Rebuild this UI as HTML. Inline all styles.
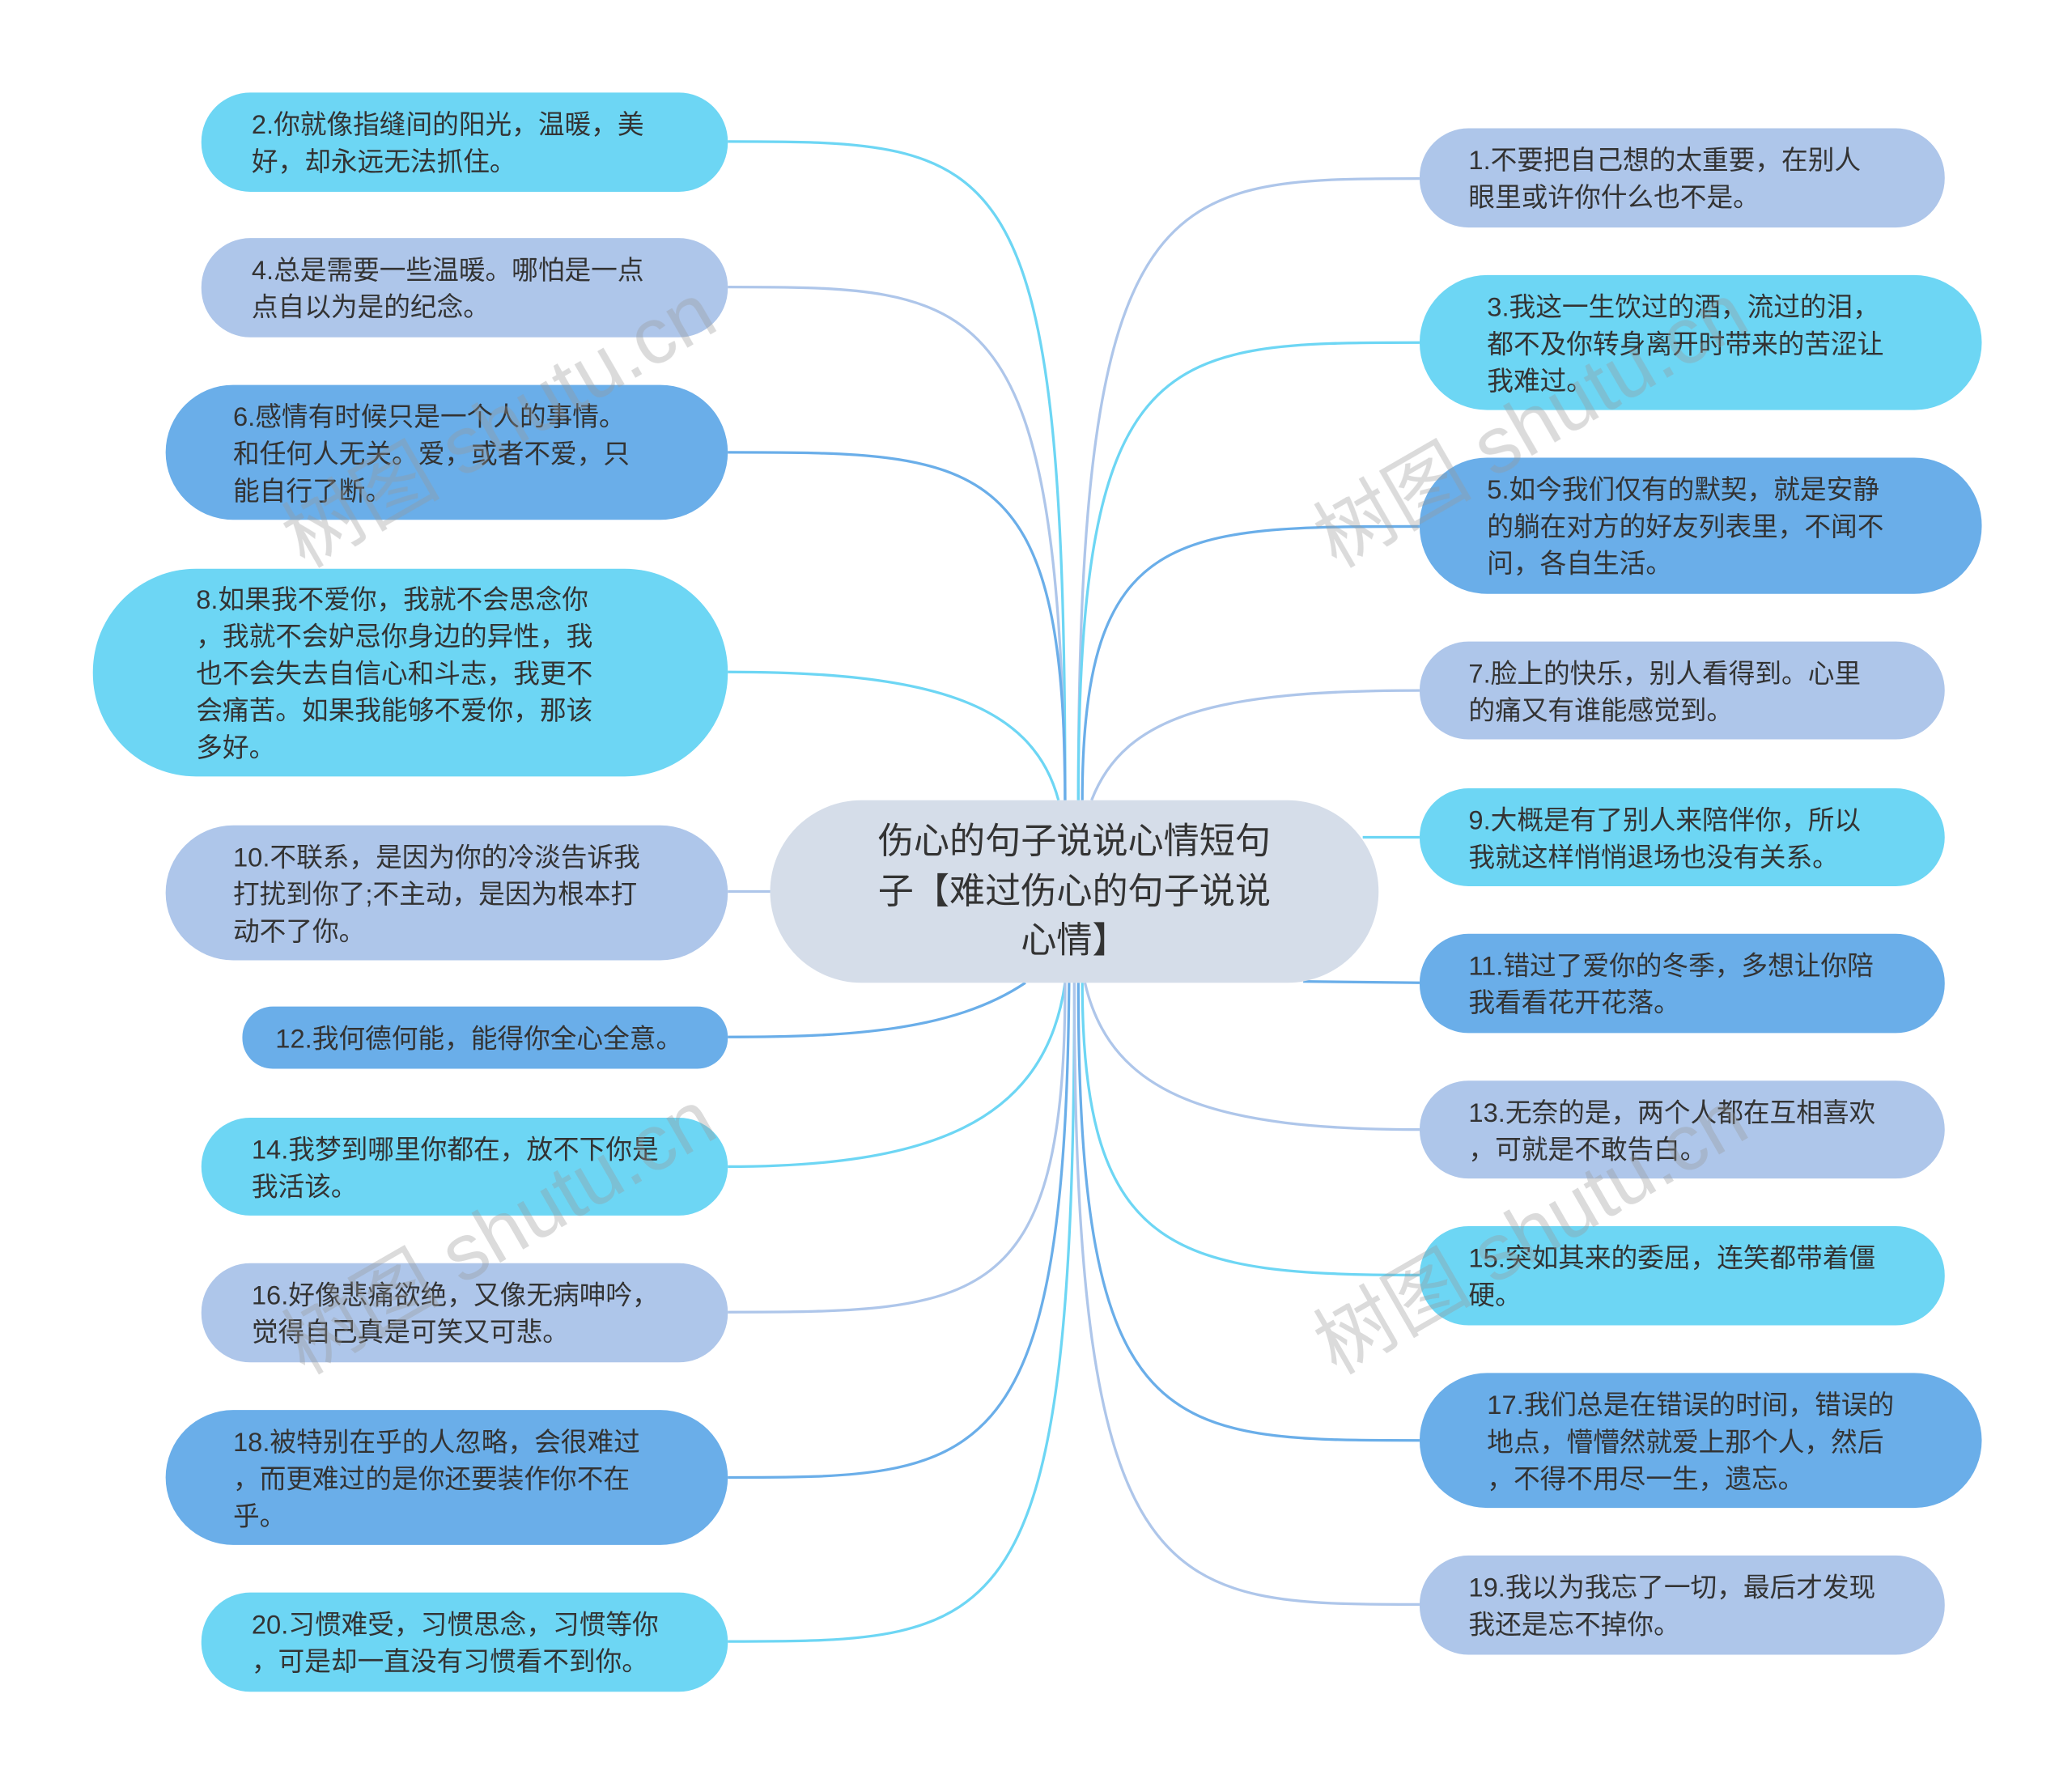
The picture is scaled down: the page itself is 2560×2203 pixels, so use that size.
<!DOCTYPE html>
<html><head><meta charset="utf-8"><style>
html,body{margin:0;padding:0;background:#fff;}
svg{display:block;}
text{font-family:"Liberation Sans","Noto Sans CJK SC",sans-serif;font-size:20px;fill:#333;}
</style></head><body>
<svg width="2560" height="2203" viewBox="0 0 1566 1348" xmlns="http://www.w3.org/2000/svg">
<g fill="none" stroke-width="2">
<path d="M805,605 C805,107 760,107 550,107" stroke="#6dd6f4"/>
<path d="M805,605 C800,217 740,217 550,217" stroke="#aec6ea"/>
<path d="M805,605 C805,342 740,342 550,342" stroke="#6aaee9"/>
<path d="M800,605 C780,530 700,508 550,508" stroke="#6dd6f4"/>
<path d="M582,674 L550,674" stroke="#aec6ea"/>
<path d="M775,743 C720,780 640,784 550,784" stroke="#6aaee9"/>
<path d="M805,743 C790,850 700,882 550,882" stroke="#6dd6f4"/>
<path d="M805,743 C805,990 740,992 550,992" stroke="#aec6ea"/>
<path d="M808,743 C805,1117 740,1117 550,1117" stroke="#6aaee9"/>
<path d="M812,743 C812,1241 760,1241 550,1241" stroke="#6dd6f4"/>
<path d="M815,605 C815,135 880,135 1073,135" stroke="#aec6ea"/>
<path d="M815,605 C815,259 880,259 1073,259" stroke="#6dd6f4"/>
<path d="M818,605 C818,398 890,398 1073,398" stroke="#6aaee9"/>
<path d="M825,605 C850,540 920,522 1073,522" stroke="#aec6ea"/>
<path d="M1030,633 L1073,633" stroke="#6dd6f4"/>
<path d="M985,742 L1073,743" stroke="#6aaee9"/>
<path d="M820,743 C840,830 920,854 1073,854" stroke="#aec6ea"/>
<path d="M818,743 C818,950 890,964 1073,964" stroke="#6dd6f4"/>
<path d="M815,743 C815,1089 880,1089 1073,1089" stroke="#6aaee9"/>
<path d="M812,743 C812,1213 880,1213 1073,1213" stroke="#aec6ea"/>
</g>
<rect x="582" y="605" width="460" height="138" rx="69" fill="#d5dde9"/>
<text x="812" y="645" text-anchor="middle" style="font-size:27px">伤心的句子说说心情短句</text>
<text x="812" y="683" text-anchor="middle" style="font-size:27px">子【难过伤心的句子说说</text>
<text x="812" y="720" text-anchor="middle" style="font-size:27px">心情】</text>
<rect x="152" y="70" width="398" height="75" rx="37" fill="#6dd6f4"/>
<text x="190" y="101">2.你就像指缝间的阳光，温暖，美</text><text x="190" y="129">好，却永远无法抓住。</text>
<rect x="152" y="180" width="398" height="75" rx="37" fill="#aec6ea"/>
<text x="190" y="211">4.总是需要一些温暖。哪怕是一点</text><text x="190" y="239">点自以为是的纪念。</text>
<rect x="125" y="291" width="425" height="102" rx="51" fill="#6aaee9"/>
<text x="176" y="322">6.感情有时候只是一个人的事情。</text><text x="176" y="350">和任何人无关。爱，或者不爱，只</text><text x="176" y="378">能自行了断。</text>
<rect x="70" y="430" width="480" height="157" rx="78" fill="#6dd6f4"/>
<text x="148" y="460">8.如果我不爱你，我就不会思念你</text><text x="148" y="488">，我就不会妒忌你身边的异性，我</text><text x="148" y="516">也不会失去自信心和斗志，我更不</text><text x="148" y="544">会痛苦。如果我能够不爱你，那该</text><text x="148" y="572">多好。</text>
<rect x="125" y="624" width="425" height="102" rx="51" fill="#aec6ea"/>
<text x="176" y="655">10.不联系，是因为你的冷淡告诉我</text><text x="176" y="683">打扰到你了;不主动，是因为根本打</text><text x="176" y="711">动不了你。</text>
<rect x="183" y="761" width="367" height="47" rx="23" fill="#6aaee9"/>
<text x="208" y="792">12.我何德何能，能得你全心全意。</text>
<rect x="152" y="845" width="398" height="74" rx="37" fill="#6dd6f4"/>
<text x="190" y="876">14.我梦到哪里你都在，放不下你是</text><text x="190" y="904">我活该。</text>
<rect x="152" y="955" width="398" height="75" rx="37" fill="#aec6ea"/>
<text x="190" y="986">16.好像悲痛欲绝，又像无病呻吟，</text><text x="190" y="1014">觉得自己真是可笑又可悲。</text>
<rect x="125" y="1066" width="425" height="102" rx="51" fill="#6aaee9"/>
<text x="176" y="1097">18.被特别在乎的人忽略，会很难过</text><text x="176" y="1125">，而更难过的是你还要装作你不在</text><text x="176" y="1153">乎。</text>
<rect x="152" y="1204" width="398" height="75" rx="37" fill="#6dd6f4"/>
<text x="190" y="1235">20.习惯难受，习惯思念，习惯等你</text><text x="190" y="1263">，可是却一直没有习惯看不到你。</text>
<rect x="1073" y="97" width="397" height="75" rx="37" fill="#aec6ea"/>
<text x="1110" y="128">1.不要把自己想的太重要，在别人</text><text x="1110" y="156">眼里或许你什么也不是。</text>
<rect x="1073" y="208" width="425" height="102" rx="51" fill="#6dd6f4"/>
<text x="1124" y="239">3.我这一生饮过的酒，流过的泪，</text><text x="1124" y="267">都不及你转身离开时带来的苦涩让</text><text x="1124" y="295">我难过。</text>
<rect x="1073" y="346" width="425" height="103" rx="51" fill="#6aaee9"/>
<text x="1124" y="377">5.如今我们仅有的默契，就是安静</text><text x="1124" y="405">的躺在对方的好友列表里，不闻不</text><text x="1124" y="433">问，各自生活。</text>
<rect x="1073" y="485" width="397" height="74" rx="37" fill="#aec6ea"/>
<text x="1110" y="516">7.脸上的快乐，别人看得到。心里</text><text x="1110" y="544">的痛又有谁能感觉到。</text>
<rect x="1073" y="596" width="397" height="74" rx="37" fill="#6dd6f4"/>
<text x="1110" y="627">9.大概是有了别人来陪伴你，所以</text><text x="1110" y="655">我就这样悄悄退场也没有关系。</text>
<rect x="1073" y="706" width="397" height="75" rx="37" fill="#6aaee9"/>
<text x="1110" y="737">11.错过了爱你的冬季，多想让你陪</text><text x="1110" y="765">我看看花开花落。</text>
<rect x="1073" y="817" width="397" height="74" rx="37" fill="#aec6ea"/>
<text x="1110" y="848">13.无奈的是，两个人都在互相喜欢</text><text x="1110" y="876">，可就是不敢告白。</text>
<rect x="1073" y="927" width="397" height="75" rx="37" fill="#6dd6f4"/>
<text x="1110" y="958">15.突如其来的委屈，连笑都带着僵</text><text x="1110" y="986">硬。</text>
<rect x="1073" y="1038" width="425" height="102" rx="51" fill="#6aaee9"/>
<text x="1124" y="1069">17.我们总是在错误的时间，错误的</text><text x="1124" y="1097">地点，懵懵然就爱上那个人，然后</text><text x="1124" y="1125">，不得不用尽一生，遗忘。</text>
<rect x="1073" y="1176" width="397" height="75" rx="37" fill="#aec6ea"/>
<text x="1110" y="1207">19.我以为我忘了一切，最后才发现</text><text x="1110" y="1235">我还是忘不掉你。</text>
<g style="font-family:'Liberation Serif','Noto Serif CJK SC',serif" opacity="0.35">
<text x="230" y="430" transform="rotate(-30 230 430)" style="font-size:60px;fill:#999">树图 shutu.cn</text>
<text x="1010" y="430" transform="rotate(-30 1010 430)" style="font-size:60px;fill:#999">树图 shutu.cn</text>
<text x="230" y="1040" transform="rotate(-30 230 1040)" style="font-size:60px;fill:#999">树图 shutu.cn</text>
<text x="1010" y="1040" transform="rotate(-30 1010 1040)" style="font-size:60px;fill:#999">树图 shutu.cn</text>
</g>
</svg>
</body></html>
